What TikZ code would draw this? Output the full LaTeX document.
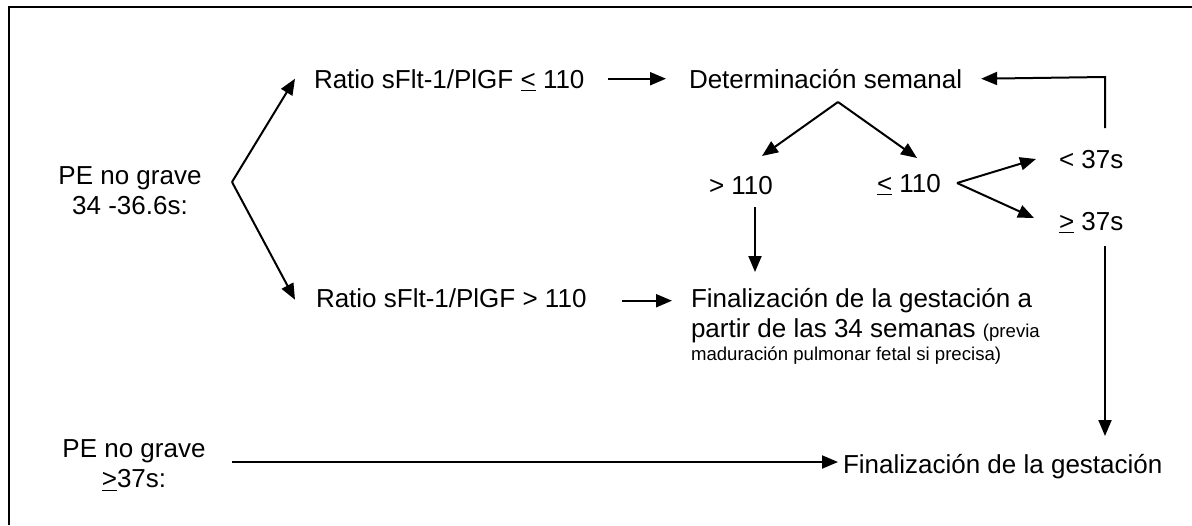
\documentclass[tikz,border=0pt]{standalone}
\usepackage{fontspec}
\setmainfont{Liberation Sans}
\usetikzlibrary{arrows.meta}
\begin{document}
\begin{tikzpicture}[x=0.5pt,y=-0.5pt,
  txt/.style={inner sep=0pt, outer sep=0pt, font=\fontsize{13}{15}\selectfont},
  arr/.style={-{Triangle[length=8pt,width=6.5pt]}, line width=1pt},
  frameline/.style={line width=1.2pt}]
\useasboundingbox (0,0) rectangle (1192,525);
\draw[frameline] (9,525) -- (9,7) -- (1192,7);

% text nodes
\node[txt, align=center] (pe1) at (130,191) {PE no grave\\34 -36.6s:};
\node[txt, align=center] (pe2) at (134,466) {PE no grave\\\underline{>}37s:};
\node[txt, anchor=base west] (r1) at (314,88) {Ratio sFlt-1/PlGF \underline{<} 110};
\node[txt, anchor=base west] (r2) at (316,307) {Ratio sFlt-1/PlGF > 110};
\node[txt, anchor=base west] (det) at (689,88) {Determinación semanal};
\node[txt, anchor=base west] (gt) at (709,194) {> 110};
\node[txt, anchor=base west] (le) at (877,192) {\underline{<} 110};
\node[txt, anchor=base west] (lt) at (1059,168) {< 37s};
\node[txt, anchor=base west] (ge) at (1059,230) {\underline{>} 37s};
\node[txt, align=left, anchor=north west] (fin1) at (691,288)
  {Finalización de la gestación a\\
   partir de las 34 semanas {\fontsize{9.3}{11}\selectfont (previa}\\[-3.5pt]
   {\fontsize{9.3}{11}\selectfont maduración pulmonar fetal si precisa)}};
\node[txt, anchor=base west] (fin2) at (843,473) {Finalización de la gestación};

% fork points and corner
\coordinate (f1) at (232,182);
\coordinate (df) at (838,102);
\coordinate (lf) at (957,183);
\coordinate (fb) at (1105,128);
\coordinate (fbc) at (1105,77);
\coordinate (gts) at (755,207);
\coordinate (ges) at (1105,246);
\coordinate (pes) at (232,462);

% connectors
\draw[arr] (f1) -- ([xshift=-9.5pt,yshift=2pt]r1.mid west);
\draw[arr] (f1) -- ([xshift=-10.5pt,yshift=1pt]r2.mid west);
\draw[arr] ([xshift=12pt,yshift=2pt]r1.mid east) -- ([xshift=-11.5pt,yshift=2pt]det.mid west);
\draw[arr] ([xshift=18pt,yshift=0.5pt]r2.mid east) -- ([xshift=-9.5pt,yshift=0.5pt]r2.mid east -| fin1.west);
\draw[arr] (df) -- (762,156);
\draw[arr] (df) -- (917,158);
\draw[arr] (lf) -- (1036,159);
\draw[arr] (lf) -- (1034,218);
\draw[arr] (gts) -- (gts |- 0,272);
\draw[arr] (fb) -- (fbc) -- ([xshift=9.5pt,yshift=2pt]det.mid east);
\draw[arr] (ges) -- (ges |- 0,436);
\draw[arr] (pes) -- ([xshift=-2.5pt]pes -| fin2.west);
\end{tikzpicture}
\end{document}
